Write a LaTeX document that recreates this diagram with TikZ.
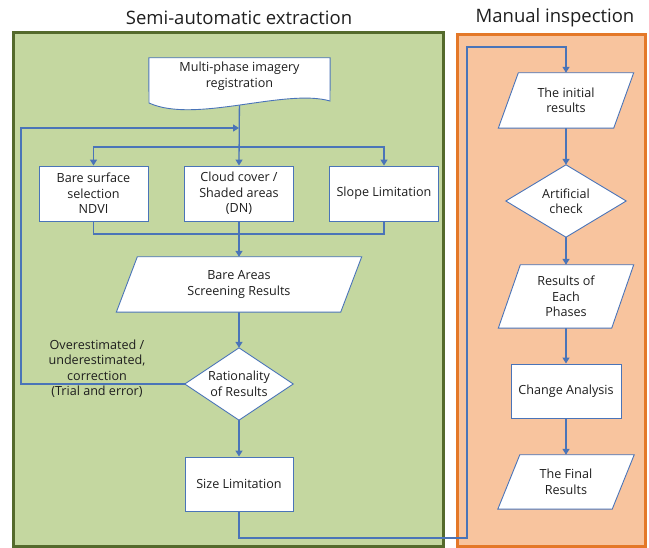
\documentclass[tikz,border=0pt]{standalone}
\usepackage{fontspec}
\setmainfont{Open Sans}
\usetikzlibrary{arrows.meta,calc}
\definecolor{frgreen}{RGB}{196,215,160}
\definecolor{frgreenb}{RGB}{84,106,44}
\definecolor{frorange}{RGB}{248,196,158}
\definecolor{frorangeb}{RGB}{228,120,40}
\definecolor{flowblue}{RGB}{74,116,184}
\definecolor{txtc}{RGB}{30,30,30}
\pgfdeclarelayer{bg}\pgfdeclarelayer{shp}\pgfsetlayers{bg,shp,main}
\newcommand\nodefont{\fontsize{12.6}{15.5}\selectfont}
\newcommand\titlefont{\fontsize{18.5}{21}\selectfont}
\tikzset{
  txt/.style={inner sep=0pt, align=center, font=\nodefont, text=txtc},
  boxn/.style={txt, draw=flowblue, fill=white, line width=0.9pt},
  shapeline/.style={draw=flowblue, fill=white, line width=0.9pt},
  conn/.style={draw=flowblue, line width=1.3pt},
  tip/.style={-{Triangle[width=7pt,length=6pt]}},
  frame/.style={line width=3pt},
}
\newcommand\paraShape[2]{\begin{pgfonlayer}{shp}\draw[shapeline] ([xshift=#2pt]#1.north west) -- (#1.north east) -- ([xshift=-#2pt]#1.south east) -- (#1.south west) -- cycle;\end{pgfonlayer}}
\newcommand\diaShape[1]{\begin{pgfonlayer}{shp}\draw[shapeline] (#1.north) -- (#1.east) -- (#1.south) -- (#1.west) -- cycle;\end{pgfonlayer}}
\begin{document}
\begin{tikzpicture}[x=1pt,y=-1pt]
\useasboundingbox (0,0) rectangle (649,548);
% titles
\node[font=\titlefont, text=txtc, inner sep=0pt] (t1) at (239,18) {Semi-automatic extraction};
\node[font=\titlefont, text=txtc, inner sep=0pt] (t2) at (555,18) {Manual inspection};
% frames
\begin{pgfonlayer}{bg}
\draw[frame, draw=frgreenb, fill=frgreen] (13,33) rectangle (443,546.5);
\draw[frame, draw=frorangeb, fill=frorange] (457,35) rectangle (645,546.5);
\end{pgfonlayer}
% left column nodes
\node[txt, minimum width=181pt, minimum height=36pt] (doc) at (239.5,76) {Multi-phase imagery\\registration};
\begin{pgfonlayer}{shp}
\draw[shapeline] (doc.north west) -- (doc.north east) -- (330,101) .. controls (285,88) and (195,124) .. (149,103) -- cycle;
\end{pgfonlayer}
\node[boxn, minimum width=109pt, minimum height=55pt] (b1) at (93.5,193.5) {Bare surface\\selection\\NDVI};
\node[boxn, minimum width=109pt, minimum height=55pt] (b2) at (239,193.5) {Cloud cover /\\Shaded areas\\(DN)};
\node[boxn, minimum width=109pt, minimum height=55pt] (b3) at (384,193.5) {Slope Limitation};
\node[txt, minimum width=245pt, minimum height=55pt] (bare) at (239,284.5) {Bare Areas\\Screening Results};
\paraShape{bare}{21}
\node[txt, minimum width=108pt, minimum height=72pt] (rat) at (239,384) {Rationality\\of Results};
\diaShape{rat}
\node[boxn, minimum width=108pt, minimum height=54pt] (size) at (239,484) {Size Limitation};
\node[txt] (lbl) at (97,368.5) {Overestimated /\\underestimated,\\correction\\(Trial and error)};
% right column nodes
\node[txt, minimum width=135pt, minimum height=55pt] (init) at (566,100.5) {The initial\\results};
\paraShape{init}{20}
\node[txt, minimum width=120pt, minimum height=72pt] (chk) at (566,201) {Artificial\\check};
\diaShape{chk}
\node[txt, minimum width=135pt, minimum height=63pt] (res) at (566,296.5) {Results of\\Each\\Phases};
\paraShape{res}{22}
\node[boxn, minimum width=110pt, minimum height=54pt] (chg) at (566,391) {Change Analysis};
\node[txt, minimum width=136pt, minimum height=54pt] (fin) at (566,482) {The Final\\Results};
\paraShape{fin}{22}
% coordinates
\coordinate (spl) at (239,147);
\coordinate (mrg) at (239,234);
\coordinate (lp) at (21,128);
\coordinate (lpe) at (239,128);
\coordinate (c1) at (467,538);
\coordinate (c2) at (467,47);
% connectors
\begin{pgfonlayer}{bg}
\draw[conn, tip] (doc.south) -- (b2.north);
\draw[conn, tip] (spl) -| (b1.north);
\draw[conn, tip] (spl) -| (b3.north);
\draw[conn] (b1.south) |- (mrg) -| (b3.south);
\draw[conn, tip] (b2.south) -- (bare.north);
\draw[conn, tip] (bare.south) -- (rat.north);
\draw[conn, tip] (rat.south) -- (size.north);
\draw[conn, tip] (rat.west) -| (lp) -- (lpe);
\draw[conn, tip] (size.south) |- (c1) -- (c2) -| (init.north);
\draw[conn, tip] (init.south) -- (chk.north);
\draw[conn, tip] (chk.south) -- (res.north);
\draw[conn, tip] (res.south) -- (chg.north);
\draw[conn, tip] (chg.south) -- (fin.north);
\end{pgfonlayer}
\end{tikzpicture}
\end{document}
